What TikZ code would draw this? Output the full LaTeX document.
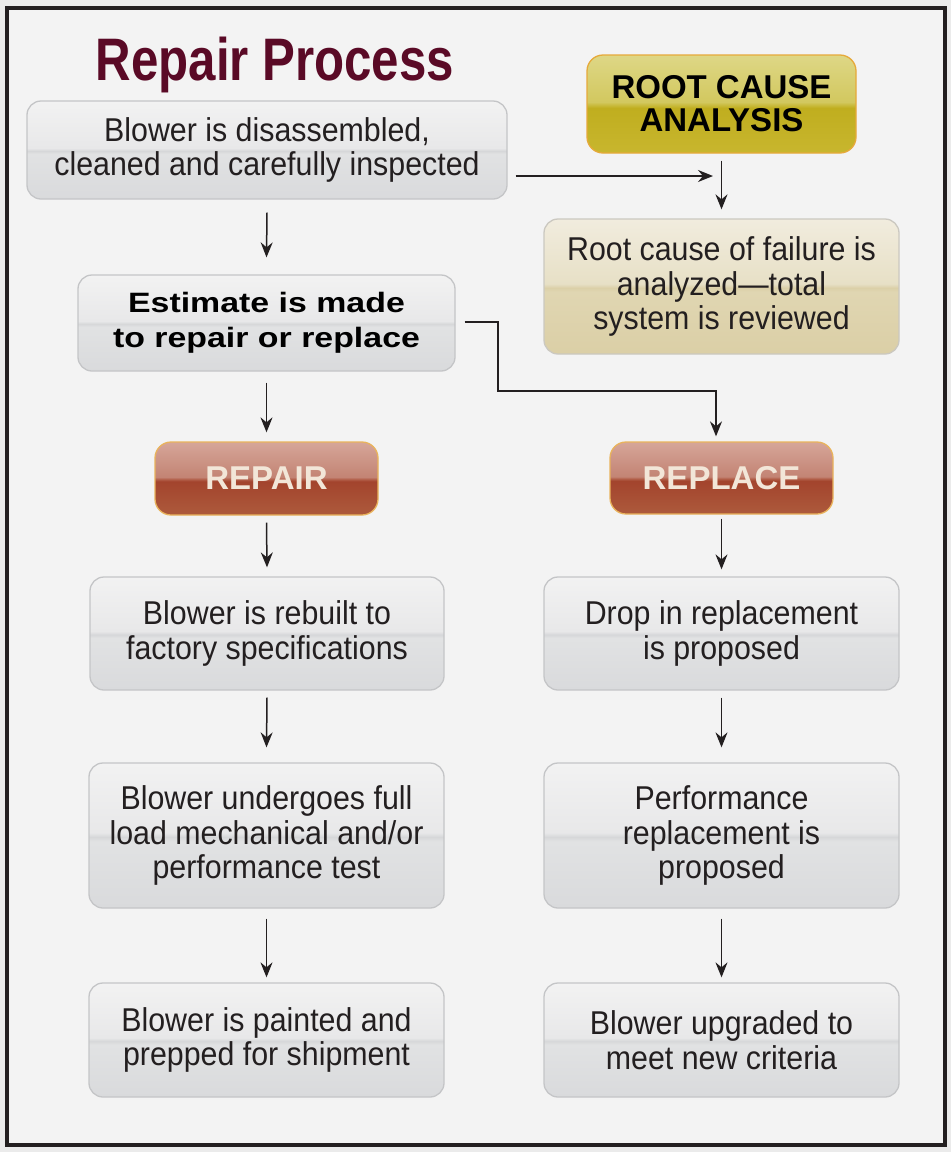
\documentclass[tikz,border=0pt]{standalone}
\usepackage{fontspec}
\setmainfont{Liberation Sans}
\newfontfamily\bodyfont{Liberation Sans}[FakeStretch=0.92]
\newfontfamily\titlefont{Liberation Sans}[FakeStretch=0.82]
\newfontfamily\widefont{Liberation Sans}[FakeStretch=1.21]
\usetikzlibrary{arrows.meta}

\definecolor{bgout}{HTML}{EBEBEB}
\definecolor{bgin}{HTML}{F3F3F3}
\definecolor{framec}{HTML}{231F20}
\definecolor{txt}{HTML}{231F20}
\definecolor{titlec}{HTML}{5A0A26}
\definecolor{gBorder}{HTML}{C4C5C7}
% gray glass
\definecolor{gB}{HTML}{D9DADC}
\definecolor{gM}{HTML}{E1E2E3}
\definecolor{gH}{HTML}{D6D7D9}
\definecolor{gL}{HTML}{E8E8E9}
\definecolor{gT}{HTML}{F2F2F2}
% red glass
\definecolor{rB}{HTML}{AD5A3C}
\definecolor{rM}{HTML}{A3442D}
\definecolor{rH}{HTML}{B2604A}
\definecolor{rL}{HTML}{C38474}
\definecolor{rT}{HTML}{D6A699}
\definecolor{rBorder}{HTML}{E9B35C}
\definecolor{rText}{HTML}{F2E6D8}
% yellow glass
\definecolor{yB}{HTML}{C8B62E}
\definecolor{yM}{HTML}{C0AE1F}
\definecolor{yH}{HTML}{C9BB3E}
\definecolor{yL}{HTML}{D2C85F}
\definecolor{yT}{HTML}{DED786}
\definecolor{yBorder}{HTML}{E6A93A}
% beige glass
\definecolor{bB}{HTML}{DBCFA6}
\definecolor{bM}{HTML}{E0D6B2}
\definecolor{bH}{HTML}{DBD0A8}
\definecolor{bL}{HTML}{E7E0C6}
\definecolor{bT}{HTML}{F1ECDE}
\definecolor{bBorder}{HTML}{CBC8C0}

\pgfdeclareverticalshading{grayglass}{100bp}{color(0bp)=(gB); color(25bp)=(gB); color(48bp)=(gM); color(49.5bp)=(gH); color(51bp)=(gL); color(75bp)=(gT); color(100bp)=(gT)}
\pgfdeclareverticalshading{redglass}{100bp}{color(0bp)=(rB); color(25bp)=(rB); color(48bp)=(rM); color(49.5bp)=(rH); color(51bp)=(rL); color(75bp)=(rT); color(100bp)=(rT)}
\pgfdeclareverticalshading{yellowglass}{100bp}{color(0bp)=(yB); color(25bp)=(yB); color(48bp)=(yM); color(49.5bp)=(yH); color(51bp)=(yL); color(75bp)=(yT); color(100bp)=(yT)}
\pgfdeclareverticalshading{beigeglass}{100bp}{color(0bp)=(bB); color(25bp)=(bB); color(48bp)=(bM); color(49.5bp)=(bH); color(51bp)=(bL); color(75bp)=(bT); color(100bp)=(bT)}

\begin{document}
\begin{tikzpicture}[x=1pt,y=-1pt,
  box/.style={rectangle, rounded corners=14pt, draw=gBorder, line width=1.3pt,
    align=center, text=txt, inner sep=0pt, shading=grayglass,
    font={\bodyfont\fontsize{33}{34.5}\selectfont}},
  beigebox/.style={box, shading=beigeglass, draw=bBorder},
  estbox/.style={box, font={\widefont\bfseries\fontsize{28}{35}\selectfont}, text=black},
  btn/.style={rectangle, rounded corners=16pt, line width=1.3pt, align=center,
    inner sep=0pt, font={\bfseries\fontsize{33}{33}\selectfont}},
  redbtn/.style={btn, shading=redglass, draw=rBorder, text=rText},
  yellowbtn/.style={btn, shading=yellowglass, draw=yBorder, text=black},
  arr/.style={draw=framec, line width=1.5pt, -{Stealth[length=15pt,width=12pt,inset=5pt]}},
  conn/.style={draw=framec, line width=1.5pt}
]
\useasboundingbox (0,0) rectangle (951,1152);
\fill[bgout] (0,0) rectangle (951,1152);
\draw[draw=framec, fill=bgin, line width=3.8pt] (7,8) rectangle (945,1145);

\node[anchor=base, text=titlec, font={\titlefont\bfseries\fontsize{60}{60}\selectfont}] (title) at (275,80) {Repair Process};

\node[box, minimum width=480pt, minimum height=98pt] (b1) at (267,150) {Blower is disassembled,\\cleaned and carefully inspected};
\node[yellowbtn, minimum width=269pt, minimum height=98pt] (rc) at (721.5,104) {ROOT CAUSE\\ANALYSIS};
\node[beigebox, minimum width=355pt, minimum height=135pt] (rct) at (721.5,286.5) {Root cause of failure is\\analyzed—total\\system is reviewed};
\node[estbox, minimum width=377pt, minimum height=96pt] (est) at (266.5,323) {Estimate is made\\to repair or replace};
\node[redbtn, minimum width=223pt, minimum height=73pt] (rep) at (266.5,478.5) {REPAIR};
\node[redbtn, minimum width=223pt, minimum height=72pt] (rpl) at (721.5,478) {REPLACE};

\node[box, minimum width=354pt, minimum height=113pt] (l1) at (267,633.5) {Blower is rebuilt to\\factory specifications};
\node[box, minimum width=355pt, minimum height=145pt] (l2) at (266.5,835.5) {Blower undergoes full\\load mechanical and/or\\performance test};
\node[box, minimum width=355pt, minimum height=114pt] (l3) at (266.5,1040) {Blower is painted and\\prepped for shipment};

\node[box, minimum width=355pt, minimum height=113pt] (r1) at (721.5,633.5) {Drop in replacement\\is proposed};
\node[box, minimum width=355pt, minimum height=145pt] (r2) at (721.5,835.5) {Performance\\replacement is\\proposed};
\node[box, minimum width=355pt, minimum height=114pt] (r3) at (721.5,1040) {Blower upgraded to\\meet new criteria};

% connectors
\coordinate (rcjoin) at (713,176);
\coordinate (estjoin) at (498,391);
\draw[arr] ([xshift=8pt,yshift=-26pt]b1.east) -- (rcjoin);
\draw[arr] ([yshift=-7pt]rc.south) -- ([yshift=9pt]rct.north);
\draw[arr] ([yshift=-13pt]b1.south) -- ([yshift=17pt]est.north);
\draw[arr] ([yshift=-11pt]est.south) -- ([yshift=9pt]rep.north);
\draw[arr] ([xshift=9pt,yshift=1pt]est.east) -| (estjoin) -| ([xshift=-5.5pt,yshift=5pt]rpl.north);
\draw[arr] ([yshift=-7pt]rep.south) -- ([yshift=9pt]l1.north);
\draw[arr] ([yshift=-7pt]l1.south) -- ([yshift=15pt]l2.north);
\draw[arr] ([yshift=-10pt]l2.south) -- ([yshift=5pt]l3.north);
\draw[arr] ([yshift=-4pt]rpl.south) -- ([yshift=7pt]r1.north);
\draw[arr] ([yshift=-7pt]r1.south) -- ([yshift=15pt]r2.north);
\draw[arr] ([yshift=-10pt]r2.south) -- ([yshift=5pt]r3.north);
\end{tikzpicture}
\end{document}
